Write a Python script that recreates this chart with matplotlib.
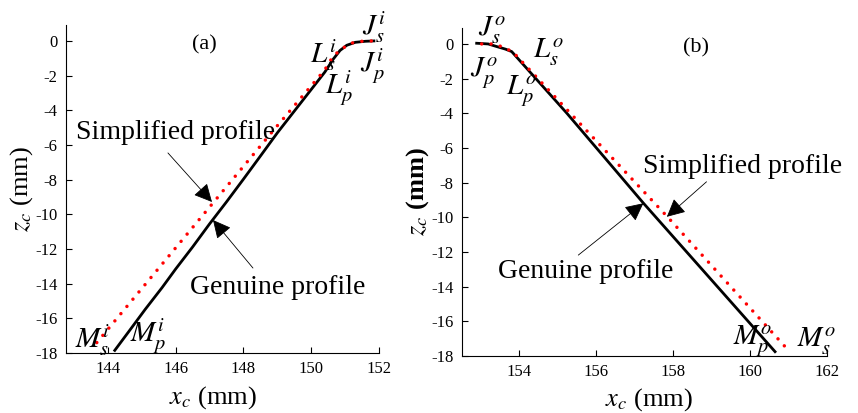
import matplotlib
matplotlib.use("Agg")
import matplotlib.pyplot as plt

plt.rcParams['font.family'] = ['Liberation Serif', 'DejaVu Serif']
plt.rcParams['mathtext.fontset'] = 'stix'

# ---- panel (a): inner side ----
gen_a_x = [144.2, 144.6, 145.1, 145.6, 146.0, 146.5, 147.0, 147.5, 148.0, 148.5,
           149.0, 149.5, 150.0, 150.4, 150.65, 150.85, 151.05, 151.3, 151.6, 151.85]
gen_a_z = [-17.85, -16.8, -15.48, -14.22, -13.15, -11.88, -10.55, -9.28, -7.97, -6.64,
           -5.3, -4.05, -2.8, -1.8, -1.05, -0.55, -0.25, -0.08, -0.02, 0.0]
sim_a_x = [143.67, 148.93, 150.4, 150.64, 150.9, 151.2, 151.5, 151.8]
sim_a_z = [-17.4, -5.05, -1.67, -0.9, -0.45, -0.12, -0.02, 0.0]

# ---- panel (b): outer side ----
gen_b_x = [152.9, 153.2, 153.42, 153.65, 153.81, 155.24, 157.23, 160.65]
gen_b_z = [0.04, 0.0, -0.15, -0.3, -0.44, -3.99, -9.18, -17.75]
sim_b_x = [153.03, 153.3, 153.55, 153.84, 157.85, 160.91]
sim_b_z = [0.0, 0.0, -0.15, -0.46, -9.96, -17.46]

xticks_a = [144, 146, 148, 150, 152]
xticks_b = [154, 156, 158, 160, 162]
yticks = [0, -2, -4, -6, -8, -10, -12, -14, -16, -18]

fig = plt.figure(figsize=(8.58, 4.13), dpi=100)
ax1 = fig.add_axes([0.0769, 0.1453, 0.3648, 0.7942])
ax2 = fig.add_axes([0.5385, 0.1380, 0.4254, 0.7942])

dots = dict(color='red', lw=2.5, linestyle=(0, (0.01, 2.7)), dash_capstyle='round',
            zorder=3)

def style(ax, xlim, xticks, bold_unit=False):
    ax.set_xlim(*xlim)
    ax.set_ylim(-18, 0.92)
    ax.set_xticks(xticks)
    ax.set_yticks(yticks)
    ax.set_xticklabels([str(t) for t in xticks])
    ax.set_yticklabels([str(t) for t in yticks])
    ax.tick_params(direction='in', length=4, labelsize=12, pad=6)
    ax.spines['top'].set_visible(False)
    ax.spines['right'].set_visible(False)
    ax.set_xlabel('$x_c$ (mm)', fontsize=19)
    if bold_unit:
        ax.set_ylabel('$z_c$ (mm)', fontsize=19, fontweight='bold')
    else:
        ax.set_ylabel('$z_c$ (mm)', fontsize=19)
    ax.xaxis.label.set_va('center')
    ax.yaxis.label.set_va('center')

# panel (a)
ax1.plot(gen_a_x, gen_a_z, color='black', lw=2.0, zorder=2)
ax1.plot(sim_a_x, sim_a_z, **dots)
style(ax1, (142.76, 152), xticks_a)
ax1.xaxis.set_label_coords(0.47, -0.137)
ax1.yaxis.set_label_coords(-0.1406, 0.5)

lab = dict(fontsize=21, ha='left', va='baseline')
ax1.text(146.86, -0.23, '(a)', fontsize=16, ha='center', va='center')
ax1.text(151.49, 0.35, '$J_s^i$', **lab)
ax1.text(151.43, -1.79, '$J_p^i$', **lab)
ax1.text(149.96, -1.27, '$L_s^i$', **lab)
ax1.text(150.4, -3.1, '$L_p^i$', **lab)
ax1.text(143.03, -17.7, '$M_s^i$', **lab)
ax1.text(144.65, -17.4, '$M_p^i$', **lab)

arr = dict(arrowstyle='-|>', color='black', lw=0.6, mutation_scale=28,
           shrinkA=0, shrinkB=0)
ax1.text(143.06, -5.3, 'Simplified profile', fontsize=20, ha='left', va='center')
ax1.annotate('', xy=(147.07, -9.29), xytext=(145.77, -6.46), arrowprops=arr)
ax1.text(146.42, -14.2, 'Genuine profile', fontsize=20, ha='left', va='center')
ax1.annotate('', xy=(147.1, -10.33), xytext=(148.28, -13.1), arrowprops=arr)

# panel (b)
ax2.plot(gen_b_x, gen_b_z, color='black', lw=2.0, zorder=2)
ax2.plot(sim_b_x, sim_b_z, **dots)
style(ax2, (152.52, 162), xticks_b, bold_unit=True)
ax2.xaxis.set_label_coords(0.512, -0.134)
ax2.yaxis.set_label_coords(-0.123, 0.5)

ax2.text(158.6, -0.25, '(b)', fontsize=16, ha='center', va='center')
ax2.text(152.94, 0.42, '$J_s^o$', **lab)
ax2.text(152.73, -1.89, '$J_p^o$', **lab)
ax2.text(154.37, -0.83, '$L_s^o$', **lab)
ax2.text(153.66, -2.94, '$L_p^o$', **lab)
ax2.text(159.57, -17.37, '$M_p^o$', **lab)
ax2.text(161.21, -17.47, '$M_s^o$', **lab)

ax2.text(157.23, -7.08, 'Simplified profile', fontsize=20, ha='left', va='center')
ax2.annotate('', xy=(157.84, -9.97), xytext=(158.87, -7.95), arrowprops=arr)
ax2.text(153.46, -13.14, 'Genuine profile', fontsize=20, ha='left', va='center')
ax2.annotate('', xy=(157.23, -9.19), xytext=(155.54, -12.18), arrowprops=arr)

fig.savefig('out.png', dpi=100)
